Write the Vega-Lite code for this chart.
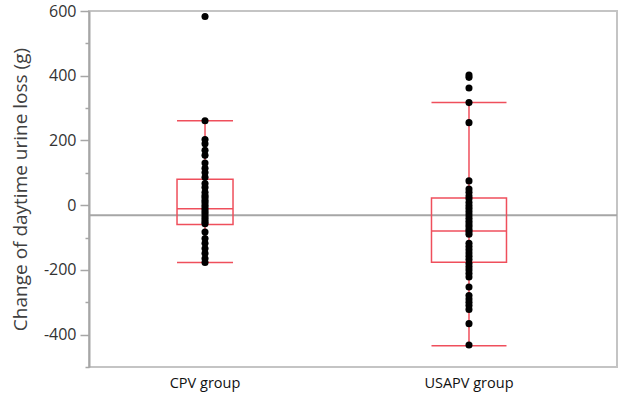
{
  "$schema": "https://vega.github.io/schema/vega-lite/v6.json",
  "width": 528,
  "height": 356,
  "autosize": "none",
  "padding": {"left": 89, "top": 11, "right": 6, "bottom": 26},
  "background": "white",
  "config": {
    "view": {"stroke": "#c4c4c4", "strokeWidth": 2},
    "font": "Open Sans",
    "axisY": {
      "titleFont": "Open Sans", "titleFontSize": 19, "titleFontWeight": "normal", "titleColor": "#404040",
      "titlePadding": 13,
      "values": [-500, -400, -300, -200, -100, 0, 100, 200, 300, 400, 500, 600],
      "labelExpr": "datum.value % 200 == 0 ? toString(datum.value) : ''",
      "labelFont": "Open Sans", "labelFontSize": 16, "labelColor": "#333333",
      "labelPadding": 4,
      "tickSize": {"condition": {"test": "datum.value % 200 == 0", "value": 9}, "value": 4},
      "tickColor": "#a6a6a6", "tickWidth": 1.5,
      "domainColor": "#a6a6a6", "domainWidth": 2,
      "grid": false
    },
    "axisX": {
      "labelAngle": 0, "ticks": false, "domain": false, "labelFont": "Open Sans", "labelFontSize": 14.5, "labelColor": "#111111", "labelPadding": 9, "grid": false
    }
  },
  "datasets": {
    "points": [
      {"group": "CPV group", "value": 583}, {"group": "CPV group", "value": 261}, {"group": "CPV group", "value": 203},
      {"group": "CPV group", "value": 190}, {"group": "CPV group", "value": 170}, {"group": "CPV group", "value": 154},
      {"group": "CPV group", "value": 130}, {"group": "CPV group", "value": 114}, {"group": "CPV group", "value": 101},
      {"group": "CPV group", "value": 86}, {"group": "CPV group", "value": 67}, {"group": "CPV group", "value": 55},
      {"group": "CPV group", "value": 40}, {"group": "CPV group", "value": 30}, {"group": "CPV group", "value": 24},
      {"group": "CPV group", "value": 15}, {"group": "CPV group", "value": 8}, {"group": "CPV group", "value": 0},
      {"group": "CPV group", "value": -8}, {"group": "CPV group", "value": -15}, {"group": "CPV group", "value": -22},
      {"group": "CPV group", "value": -30}, {"group": "CPV group", "value": -38}, {"group": "CPV group", "value": -45},
      {"group": "CPV group", "value": -52}, {"group": "CPV group", "value": -57}, {"group": "CPV group", "value": -83},
      {"group": "CPV group", "value": -103}, {"group": "CPV group", "value": -118}, {"group": "CPV group", "value": -134},
      {"group": "CPV group", "value": -149}, {"group": "CPV group", "value": -165}, {"group": "CPV group", "value": -177},
      {"group": "USAPV group", "value": 402}, {"group": "USAPV group", "value": 395}, {"group": "USAPV group", "value": 362},
      {"group": "USAPV group", "value": 317}, {"group": "USAPV group", "value": 255}, {"group": "USAPV group", "value": 75},
      {"group": "USAPV group", "value": 50}, {"group": "USAPV group", "value": 40}, {"group": "USAPV group", "value": 28},
      {"group": "USAPV group", "value": 20}, {"group": "USAPV group", "value": 8}, {"group": "USAPV group", "value": -2},
      {"group": "USAPV group", "value": -10}, {"group": "USAPV group", "value": -20}, {"group": "USAPV group", "value": -30},
      {"group": "USAPV group", "value": -40}, {"group": "USAPV group", "value": -50}, {"group": "USAPV group", "value": -58},
      {"group": "USAPV group", "value": -66}, {"group": "USAPV group", "value": -75}, {"group": "USAPV group", "value": -82},
      {"group": "USAPV group", "value": -90}, {"group": "USAPV group", "value": -118}, {"group": "USAPV group", "value": -128},
      {"group": "USAPV group", "value": -138}, {"group": "USAPV group", "value": -148}, {"group": "USAPV group", "value": -158},
      {"group": "USAPV group", "value": -168}, {"group": "USAPV group", "value": -180}, {"group": "USAPV group", "value": -190},
      {"group": "USAPV group", "value": -200}, {"group": "USAPV group", "value": -211}, {"group": "USAPV group", "value": -222},
      {"group": "USAPV group", "value": -253}, {"group": "USAPV group", "value": -279}, {"group": "USAPV group", "value": -290},
      {"group": "USAPV group", "value": -300}, {"group": "USAPV group", "value": -310}, {"group": "USAPV group", "value": -322},
      {"group": "USAPV group", "value": -366}, {"group": "USAPV group", "value": -432}
    ],
    "summary": [
      {"group": "CPV group", "q1": -60, "median": -11, "q3": 80, "lo": -177, "hi": 261, "n": 33},
      {"group": "USAPV group", "q1": -176, "median": -80, "q3": 22, "lo": -434, "hi": 317, "n": 41}
    ],
    "reference": [{"mean": -31}]
  },
  "layer": [
    {
      "data": {"name": "reference"},
      "mark": {"type": "rule", "color": "#a6a6a6", "strokeWidth": 2},
      "encoding": {
        "y": {
          "field": "mean", "type": "quantitative",
          "title": "Change of daytime urine loss (g)",
          "scale": {"domain": [-500, 600], "nice": false, "zero": false}
        }
      }
    },
    {
      "data": {"name": "summary"},
      "mark": {"type": "rule", "color": "#ef4f5c", "strokeWidth": 1.5},
      "encoding": {
        "x": {
          "field": "group", "type": "nominal", "title": null,
          "scale": {"type": "band", "domain": ["CPV group", "USAPV group"], "paddingInner": 0.121, "paddingOuter": 0.0606, "align": 0}
        },
        "y": {"field": "lo", "type": "quantitative", "title": "Change of daytime urine loss (g)"},
        "y2": {"field": "hi"}
      }
    },
    {
      "data": {"name": "summary"},
      "mark": {"type": "bar", "filled": false, "stroke": "#ef4f5c", "strokeWidth": 1.5},
      "encoding": {
        "x": {"field": "group", "type": "nominal", "title": null},
        "y": {"field": "q1", "type": "quantitative", "title": "Change of daytime urine loss (g)"},
        "y2": {"field": "q3"},
        "size": {"field": "n", "type": "quantitative", "scale": {"domain": [33, 41], "range": [56, 75], "zero": false}, "legend": null}
      }
    },
    {
      "data": {"name": "summary"},
      "transform": [{"fold": ["median", "lo", "hi"], "as": ["stat", "v"]}],
      "mark": {"type": "tick", "color": "#ef4f5c", "thickness": 1.5, "opacity": 1},
      "encoding": {
        "x": {"field": "group", "type": "nominal", "title": null},
        "y": {"field": "v", "type": "quantitative", "title": "Change of daytime urine loss (g)"},
        "size": {"field": "n", "type": "quantitative", "legend": null}
      }
    },
    {
      "data": {"name": "points"},
      "mark": {"type": "circle", "color": "#000000", "size": 50, "opacity": 1},
      "encoding": {
        "x": {"field": "group", "type": "nominal", "title": null},
        "y": {"field": "value", "type": "quantitative", "title": "Change of daytime urine loss (g)"}
      }
    }
  ]
}
